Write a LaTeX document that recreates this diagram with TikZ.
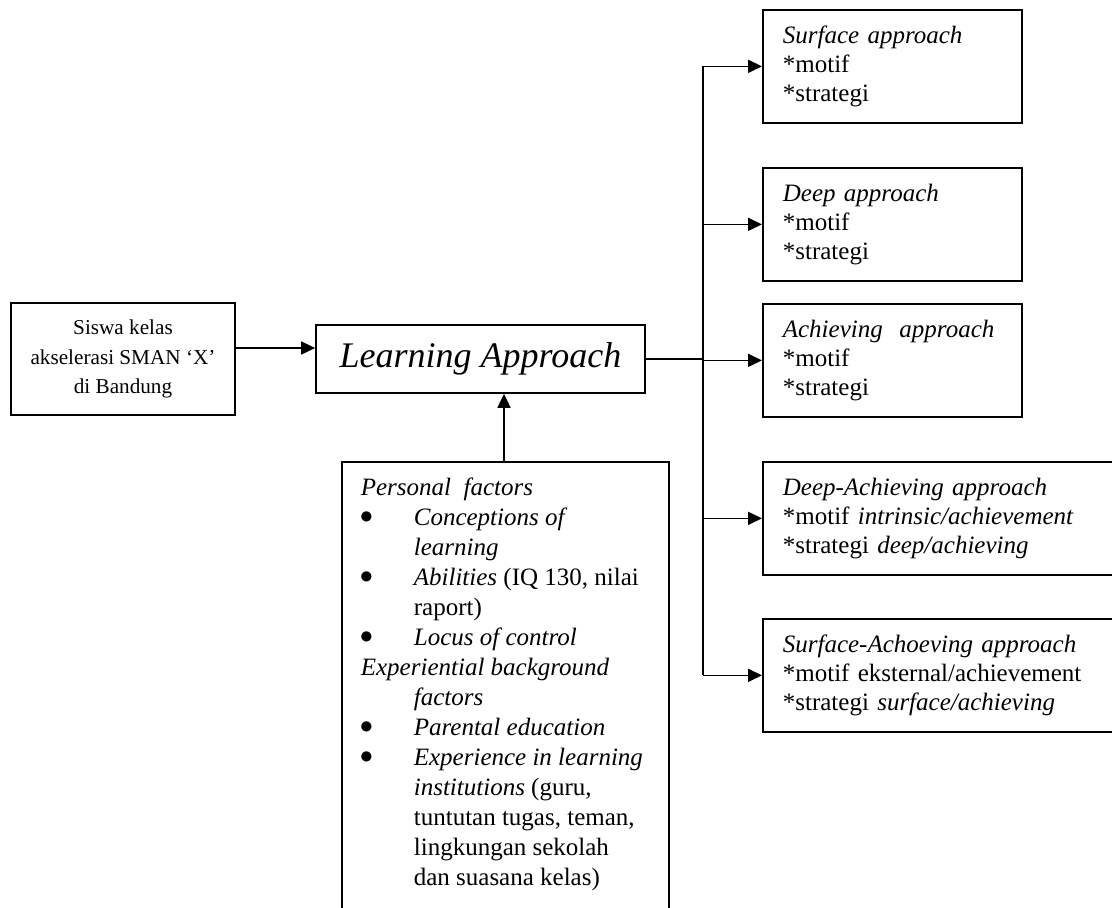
\documentclass[tikz,border=0pt]{standalone}
\usepackage{fontspec}
\setmainfont{Liberation Serif}
\usetikzlibrary{arrows.meta}
\newcommand\pfbul{\makebox[26.5pt][l]{\hspace{-0.5pt}\smash{\raisebox{1.2pt}{\scalebox{1.1}{$\bullet$}}}}}
\newcommand\pfind{\hspace*{26.5pt}}
\begin{document}
\begin{tikzpicture}[x=0.5pt,y=-0.5pt,
  line width=0.85pt,
  arr/.style={-{Triangle[length=7pt,width=6.5pt]}},
  box/.style={draw, inner sep=0pt},
  appr/.style={draw, anchor=north west, minimum width=129.5pt, minimum height=56.5pt,
    text width=109.5pt, inner xsep=10pt, inner ysep=0pt, align=left,
    font=\fontsize{12.5}{14.5}\selectfont},
  wide/.style={minimum width=179pt, text width=159pt}]
\useasboundingbox (0,0) rectangle (1112,907);
% left box
\node[box, minimum width=112pt, minimum height=56pt, align=center,
  font=\fontsize{10.6}{14.75}\selectfont] (siswa) at (123,359)
  {Siswa kelas\\akselerasi SMAN ‘X’\\di Bandung};
% central box
\node[box, minimum width=164.5pt, minimum height=34pt,
  font=\fontsize{18}{21}\selectfont\itshape] (la) at (480.5,359) {Learning Approach};
% approach boxes
\node[appr] (s1) at (762,9) {\textit{Surface approach}\\{}*motif\\{}*strategi};
\node[appr] (s2) at (762,167) {\textit{Deep approach}\\{}*motif\\{}*strategi};
\node[appr] (s3) at (762,303) {\textit{Achieving\ \ approach}\\{}*motif\\{}*strategi};
\node[appr, wide] (s4) at (762,461) {\textit{Deep-Achieving approach}\\{}*motif \textit{intrinsic/achievement}\\{}*strategi \textit{deep/achieving}};
\node[appr, wide] (s5) at (762,618) {\textit{Surface-Achoeving approach}\\{}*motif eksternal/achievement\\{}*strategi \textit{surface/achieving}};
% factors box
\node[box, anchor=north west, minimum width=163.5pt, minimum height=240pt] (pfbox) at (341,461) {};
\node[anchor=north west, inner sep=0pt, align=left, font=\fontsize{12.5}{15}\selectfont] (pf) at (360,474)
  {\strut\textit{Personal\ \ factors}\\
   \pfbul\textit{Conceptions of}\\
   \pfind\textit{learning}\\
   \pfbul\textit{Abilities} (IQ 130, nilai\\
   \pfind raport)\\
   \pfbul\textit{Locus of control}\\
   \textit{Experiential background}\\
   \pfind\textit{factors}\\
   \pfbul\textit{Parental education}\\
   \pfbul\textit{Experience in learning}\\
   \pfind\textit{institutions} (guru,\\
   \pfind tuntutan tugas, teman,\\
   \pfind lingkungan sekolah\\
   \pfind dan suasana kelas)};
% connectors
\draw[arr] (siswa.east |- 0,348) -- (la.west |- 0,348);
\coordinate (pfa) at (504,461);
\draw[arr] (pfa) -- (pfa |- la.south);
\coordinate (tr) at (703,0);
\draw (la.east) -- (tr |- la.east);
\draw (tr |- s1.west) -- (tr |- s5.west);
\foreach \b in {s1,s2,s3,s4,s5} \draw[arr] (tr |- \b.west) -- (\b.west);
\end{tikzpicture}
\end{document}
